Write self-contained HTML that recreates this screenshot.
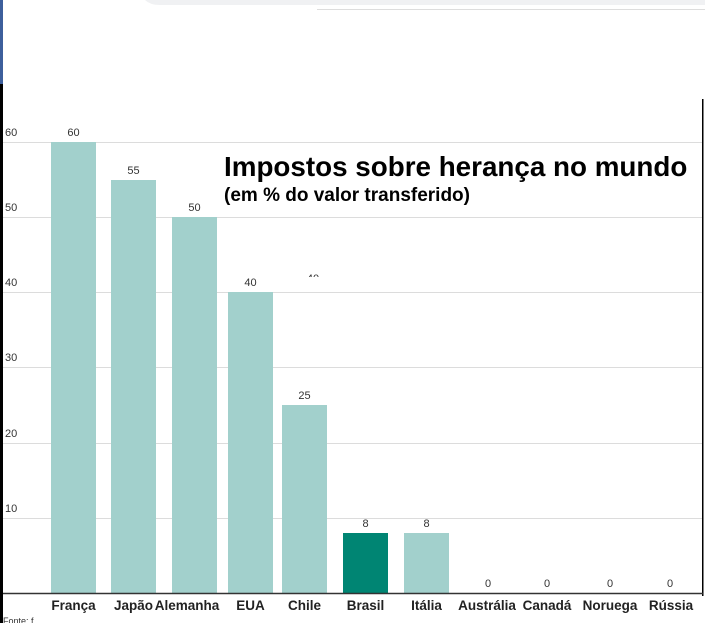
<!DOCTYPE html>
<html><head><meta charset="utf-8"><style>
html,body{margin:0;padding:0;background:#fff;width:705px;height:623px;overflow:hidden}
</style></head><body>
<svg width="705" height="623" xmlns="http://www.w3.org/2000/svg" font-family="Liberation Sans, Arial, sans-serif">
<rect x="0" y="0" width="705" height="623" fill="#fff"/>
<rect x="0" y="0" width="3" height="84" fill="#3d5f9c"/>
<rect x="0" y="84" width="3" height="539" fill="#000"/>
<path d="M145 0 H705 V5 H160 Q150 5 145 0 Z" fill="#f0f1f3"/>
<rect x="317" y="9" width="388" height="1" fill="#ddd"/>
<rect x="702" y="99" width="1.5" height="497" fill="#000"/>
<g stroke="#dcdcdc" stroke-width="1">
<line x1="3" x2="702" y1="142.5" y2="142.5"/>
<line x1="3" x2="702" y1="217.5" y2="217.5"/>
<line x1="3" x2="702" y1="292.5" y2="292.5"/>
<line x1="3" x2="702" y1="367.5" y2="367.5"/>
<line x1="3" x2="702" y1="443.5" y2="443.5"/>
<line x1="3" x2="702" y1="518.5" y2="518.5"/>
</g>
<g font-size="11" fill="#333">
<text x="5" y="136">60</text><text x="5" y="211">50</text><text x="5" y="286">40</text>
<text x="5" y="361">30</text><text x="5" y="437">20</text><text x="5" y="512">10</text>
</g>
<g fill="#a2d0cc">
<rect x="51" y="142" width="45" height="451"/>
<rect x="111" y="180" width="45" height="413"/>
<rect x="172" y="217" width="45" height="376"/>
<rect x="228" y="292" width="45" height="301"/>
<rect x="282" y="405" width="45" height="188"/>
<rect x="404" y="533" width="45" height="60"/>
</g>
<rect x="343" y="533" width="45" height="60" fill="#008573"/>
<line x1="3" x2="703" y1="593.5" y2="593.5" stroke="#333" stroke-width="1.5"/>
<g font-size="11" fill="#333" text-anchor="middle">
<text x="73.5" y="136">60</text><text x="133.5" y="174">55</text><text x="194.5" y="211">50</text>
<text x="250.5" y="286">40</text><text x="304.5" y="399">25</text><text x="365.5" y="527">8</text>
<text x="426.5" y="527">8</text><text x="488" y="587">0</text><text x="547" y="587">0</text>
<text x="610" y="587">0</text><text x="670" y="587">0</text>
</g>
<clipPath id="c"><rect x="300" y="270" width="30" height="7"/></clipPath>
<text x="313" y="282" font-size="11" fill="#333" text-anchor="middle" clip-path="url(#c)">40</text>
<g font-size="13.5" font-weight="bold" fill="#222" text-anchor="middle">
<text x="73.5" y="610">França</text><text x="133.5" y="610">Japão</text><text x="187" y="610">Alemanha</text>
<text x="250.5" y="610">EUA</text><text x="304.5" y="610">Chile</text><text x="365.5" y="610">Brasil</text>
<text x="426.5" y="610">Itália</text><text x="487" y="610">Austrália</text><text x="547" y="610">Canadá</text>
<text x="610" y="610">Noruega</text><text x="671" y="610">Rússia</text>
</g>
<text x="224" y="176" font-size="27.8" font-weight="bold" fill="#000">Impostos sobre herança no mundo</text>
<text x="224" y="201" font-size="19" font-weight="bold" fill="#000">(em % do valor transferido)</text>
<text x="3" y="624" font-size="9" fill="#333">Fonte: f</text>
</svg>
</body></html>
